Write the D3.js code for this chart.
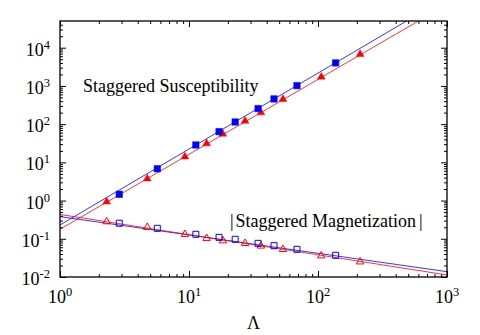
<!DOCTYPE html>
<html>
<head>
<meta charset="utf-8">
<script src="https://cdn.jsdelivr.net/npm/d3@7"></script>
<style>
  body { margin: 0; background: #fff; }
  svg text { font-family: "Liberation Serif", "DejaVu Serif", serif; }
</style>
</head>
<body>
<div class="chart-wrapper"></div>
<script>
// data
const chiSquareX = [2.88, 5.68, 11.3, 17.1, 22.8, 34.3, 45.6, 68.7, 137];
const chiSquareY = [1.46, 6.8, 28.5, 63.6, 114, 255, 457, 1018, 4000];
const chiTriX = [2.3, 4.75, 9.3, 13.7, 18.3, 27.2, 36.1, 53.5, 106, 212];
const chiTriY = [0.935, 3.74, 14.1, 31, 55.4, 121, 200, 449, 1722, 6760];

const magSquareX = chiSquareX;
const magSquareY = [0.255, 0.188, 0.131, 0.109, 0.097, 0.076, 0.066, 0.053, 0.037];
const magTriX = chiTriX;
const magTriY = [0.281, 0.200, 0.131, 0.103, 0.089, 0.076, 0.065, 0.053, 0.036, 0.025];

// fitted lines, endpoints at x = 1 and x = 1000
const fitX = [1, 1000];
const chiBlueFit = [0.23, 2.1e5];
const chiRedFit = [0.177, 1.36e5];
const magBlueFit = [0.38, 0.0138];
const magRedFit = [0.433, 0.0113];

const xTicks = [1, 10, 100, 1000];
const yTicks = [1e-2, 1e-1, 1, 10, 100, 1000, 1e4];

const serif = "'Liberation Serif', 'DejaVu Serif', serif";

const svgWidth = 480;
const svgHeight = 335;
const margin = { top: 21, right: 33, bottom: 58, left: 60 };
const innerW = svgWidth - margin.left - margin.right;
const innerH = svgHeight - margin.top - margin.bottom;

const svg = d3.select(".chart-wrapper")
    .append("svg")
    .attr("width", svgWidth)
    .attr("height", svgHeight)
    .attr("font-family", serif);

const chart = svg.append("g")
    .attr("transform", `translate(${margin.left},${margin.top})`);

const xScale = d3.scaleLog().domain([1, 1000]).range([0, innerW]);
const yScale = d3.scaleLog().domain([0.01, 5e4]).range([innerH, 0]);

// minor tick values
function minorTicks(lo, hi) {
    const out = [];
    for (let e = Math.floor(Math.log10(lo)); e <= Math.ceil(Math.log10(hi)); e++) {
        for (let m = 2; m <= 9; m++) {
            const v = m * Math.pow(10, e);
            if (v > lo && v < hi) out.push(v);
        }
    }
    return out;
}
const xMinor = minorTicks(1, 1000);
const yMinor = minorTicks(0.01, 5e4);

const major = 6, minor = 3;

function drawAxis(axisFn, scale, ticks, size, transform) {
    const g = chart.append("g")
        .attr("transform", transform)
        .call(axisFn(scale).tickValues(ticks).tickSize(-size).tickFormat(""));
    g.select(".domain").remove();
    g.selectAll("line").attr("stroke", "#000").attr("stroke-width", 1);
    return g;
}

// ticks on all four sides, pointing inward
drawAxis(d3.axisBottom, xScale, xTicks, major, `translate(0,${innerH})`);
drawAxis(d3.axisBottom, xScale, xMinor, minor, `translate(0,${innerH})`);
drawAxis(d3.axisTop, xScale, xTicks, major, "translate(0,0)");
drawAxis(d3.axisTop, xScale, xMinor, minor, "translate(0,0)");
drawAxis(d3.axisLeft, yScale, yTicks, major, "translate(0,0)");
drawAxis(d3.axisLeft, yScale, yMinor, minor, "translate(0,0)");
drawAxis(d3.axisRight, yScale, yTicks, major, `translate(${innerW},0)`);
drawAxis(d3.axisRight, yScale, yMinor, minor, `translate(${innerW},0)`);

// tick labels as 10^n
function powerLabel(sel, v) {
    const e = Math.round(Math.log10(v));
    sel.append("tspan").text("10");
    sel.append("tspan")
        .attr("dy", -7)
        .style("font-size", "12.5px")
        .text(String(e));
}

chart.selectAll(".xlab")
    .data(xTicks)
    .enter()
    .append("text")
    .attr("class", "xlab")
    .attr("x", d => xScale(d))
    .attr("y", innerH + 26)
    .attr("text-anchor", "middle")
    .style("font-size", "18px")
    .each(function (d) { powerLabel(d3.select(this), d); });

chart.selectAll(".ylab")
    .data(yTicks)
    .enter()
    .append("text")
    .attr("class", "ylab")
    .attr("x", -10)
    .attr("y", d => yScale(d) + 8)
    .attr("text-anchor", "end")
    .style("font-size", "18px")
    .each(function (d) { powerLabel(d3.select(this), d); });

// axis title
svg.append("text")
    .attr("x", margin.left + innerW / 2)
    .attr("y", 329)
    .attr("text-anchor", "middle")
    .style("font-size", "18px")
    .text("Λ");

// clip for the fit lines
svg.append("defs").append("clipPath")
    .attr("id", "plotClip")
    .append("rect")
    .attr("width", innerW)
    .attr("height", innerH);

const line = d3.line()
    .x(d => xScale(d[0]))
    .y(d => yScale(d[1]));

const fits = [
    { ys: chiBlueFit, color: "#0000ff" },
    { ys: chiRedFit, color: "#ff0000" },
    { ys: magBlueFit, color: "#0000ff" },
    { ys: magRedFit, color: "#ff0000" }
];

chart.append("g")
    .attr("clip-path", "url(#plotClip)")
    .selectAll("path")
    .data(fits)
    .enter()
    .append("path")
    .attr("d", d => line(fitX.map((x, i) => [x, d.ys[i]])))
    .attr("fill", "none")
    .attr("stroke", d => d.color)
    .attr("stroke-width", 0.8);

// markers
const square = d3.symbol().type(d3.symbolSquare);
const triangle = d3.symbol().type(d3.symbolTriangle);

function drawMarkers(xs, ys, shape, size, color, filled) {
    chart.append("g")
        .selectAll("path")
        .data(xs.map((x, i) => [x, ys[i]]))
        .enter()
        .append("path")
        .attr("transform", d => `translate(${xScale(d[0])},${yScale(d[1])})`)
        .attr("d", shape.size(size)())
        .attr("fill", filled ? color : "none")
        .attr("stroke", color)
        .attr("stroke-width", filled ? 0.5 : 1);
}

drawMarkers(magTriX, magTriY, triangle, 24, "#ff0000", false);
drawMarkers(magSquareX, magSquareY, square, 36, "#0000ff", false);
drawMarkers(chiTriX, chiTriY, triangle, 26, "#ff0000", true);
drawMarkers(chiSquareX, chiSquareY, square, 42, "#0000ff", true);

// annotations
svg.append("text")
    .attr("x", 83)
    .attr("y", 92)
    .style("font-size", "18px")
    .text("Staggered Susceptibility");

const mag = svg.append("text")
    .attr("x", 230)
    .attr("y", 227)
    .style("font-size", "18px");
mag.append("tspan").text("|");
mag.append("tspan").attr("dx", 2).text("Staggered Magnetization");
mag.append("tspan").attr("dx", 3).text("|");

// frame
chart.append("rect")
    .attr("width", innerW)
    .attr("height", innerH)
    .attr("fill", "none")
    .attr("stroke", "#000")
    .attr("stroke-width", 1.3);
</script>
</body>
</html>
